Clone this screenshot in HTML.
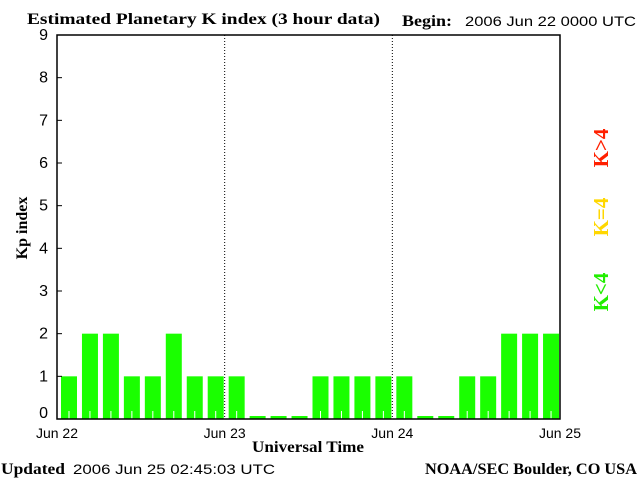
<!DOCTYPE html>
<html><head><meta charset="utf-8"><style>
body{margin:0;background:#fff}
svg{display:block}
.s{font-family:"Liberation Serif",serif;font-weight:bold;font-size:16px}
.n{font-family:"Liberation Sans",sans-serif;font-size:14px}
</style></head><body>
<svg width="640" height="480">
<text class="s" x="27" y="24" textLength="353" lengthAdjust="spacingAndGlyphs">Estimated Planetary K index (3 hour data)</text>
<text class="s" x="402" y="26" textLength="50" lengthAdjust="spacingAndGlyphs">Begin:</text>
<text class="n" x="465" y="26" textLength="171" lengthAdjust="spacingAndGlyphs">2006 Jun 22 0000 UTC</text>
<text class="s" x="27" y="228" transform="rotate(-90 27 228)" text-anchor="middle">Kp index</text>
<text class="s" x="252" y="452" textLength="112" lengthAdjust="spacingAndGlyphs">Universal Time</text>
<text class="s" x="1" y="474" textLength="64" lengthAdjust="spacingAndGlyphs">Updated</text>
<text class="n" x="73" y="474" textLength="202" lengthAdjust="spacingAndGlyphs">2006 Jun 25 02:45:03 UTC</text>
<text class="s" x="425" y="474" textLength="212" lengthAdjust="spacingAndGlyphs">NOAA/SEC Boulder, CO USA</text>
<text class="s" x="608" y="148" transform="rotate(-90 608 148)" text-anchor="middle" fill="#ff2000" style="font-size:21px">K&gt;4</text>
<text class="s" x="608" y="217" transform="rotate(-90 608 217)" text-anchor="middle" fill="#ffd700" style="font-size:21px">K=4</text>
<text class="s" x="608" y="292" transform="rotate(-90 608 292)" text-anchor="middle" fill="#22ee00" style="font-size:21px">K&lt;4</text>
<g id="plot"></g>
</svg>
<script>
const kpValues=[1,2,2,1,1,2,1,1, 1,0,0,0,1,1,1,1, 1,0,0,1,1,2,2,2];
const yTicks=[0,1,2,3,4,5,6,7,8,9];
const dayLabels=["Jun 22","Jun 23","Jun 24","Jun 25"];
const L=57,R=560,T=35,B=419;
const NS="http://www.w3.org/2000/svg";
const g=document.getElementById('plot');
const x=i=>L+(R-L)*i/kpValues.length;
const y=v=>B-(B-T)*v/9;
function mk(t,a,p){const e=document.createElementNS(NS,t);for(const k in a)e.setAttribute(k,a[k]);(p||g).appendChild(e);return e;}
kpValues.forEach((v,i)=>{
 const top=v===0?B-3:y(v);
 const c=v>4?'#ff2000':v===4?'#ffd700':'#1aff00';
 const r=mk('rect',{x:x(i)+4,y:top,width:16,height:B-top,fill:c});
 
 
 if(v>0){const t=mk('line',{x1:x(i)+12,x2:x(i)+12,y1:B-8,y2:B,stroke:'#fff'});
 
 }
});
[1,2].forEach(d=>{const xx=L+(R-L)*d/3;const l=mk('line',{x1:xx,x2:xx,y1:T,y2:B,stroke:'#000','stroke-dasharray':'1,2'});

});
const f=mk('path',{d:`M${L},${T}H${R}V${B}H${L}Z`,fill:'none',stroke:'#000','stroke-width':1.5});


yTicks.forEach(v=>{mk('line',{x1:L,x2:L+5,y1:y(v),y2:y(v),stroke:'#000'});
const t=mk('text',{x:48,y:Math.min(y(v)+5,B-1),'text-anchor':'end',class:'n',style:'font-size:16px'});t.textContent=v;

});
dayLabels.forEach((s,d)=>{const t=mk('text',{x:L+(R-L)*d/3,y:438,'text-anchor':'middle',class:'n'});t.textContent=s;

});
</script>
</body></html>
